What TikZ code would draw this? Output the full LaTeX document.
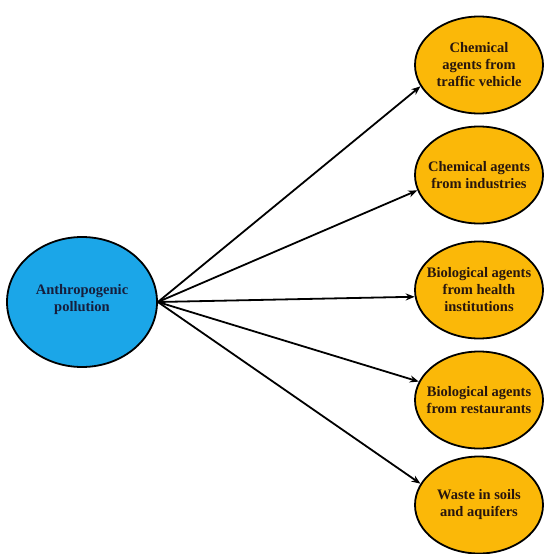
\documentclass[tikz,border=0pt]{standalone}
\usepackage{fontspec}
\setmainfont{Liberation Serif}
\usetikzlibrary{arrows.meta,shapes.geometric}
\definecolor{srcblue}{RGB}{27,166,232}
\definecolor{tgtorange}{RGB}{251,184,8}
\definecolor{srctext}{RGB}{22,30,60}
\definecolor{tgttext}{RGB}{40,22,14}
\begin{document}
\begin{tikzpicture}[x=1pt,y=-1pt,
  srcell/.style={ellipse, draw=black, line width=1.8pt, fill=srcblue, minimum width=150pt, minimum height=130pt, inner sep=0pt},
  tgtell/.style={ellipse, draw=black, line width=1.8pt, fill=tgtorange, minimum width=128pt, minimum height=97pt, inner sep=0pt},
  lbl/.style={align=center, font=\fontsize{14.5}{17}\selectfont\bfseries, inner sep=0pt},
  link/.style={-{Stealth[length=9pt,width=7pt]}, line width=1.8pt}]
\useasboundingbox (0,0) rectangle (547,554);
\node[srcell] (L) at (82,302) {};
\node[lbl, text=srctext] (Lt) at (82,300) {Anthropogenic\\pollution};
\node[tgtell] (R1) at (479,65) {};
\node[lbl, text=tgttext] (R1t) at (R1) {Chemical\\agents from\\traffic vehicle};
\node[tgtell] (R2) at (479,175) {};
\node[lbl, text=tgttext] (R2t) at (R2) {Chemical agents\\from industries};
\node[tgtell] (R3) at (479,290) {};
\node[lbl, text=tgttext] (R3t) at (R3) {Biological agents\\from health\\institutions};
\node[tgtell] (R4) at (479,400) {};
\node[lbl, text=tgttext] (R4t) at (R4) {Biological agents\\from restaurants};
\node[tgtell] (R5) at (479,505) {};
\node[lbl, text=tgttext] (R5t) at (R5) {Waste in soils\\and aquifers};
\draw[link] (L.east) -- (R1.200);
\draw[link] (L.east) -- (R2.194);
\draw[link] (L.east) -- (R3.186);
\draw[link] (L.east) -- (R4.163);
\draw[link] (L.east) -- (R5.160);
\end{tikzpicture}
\end{document}
